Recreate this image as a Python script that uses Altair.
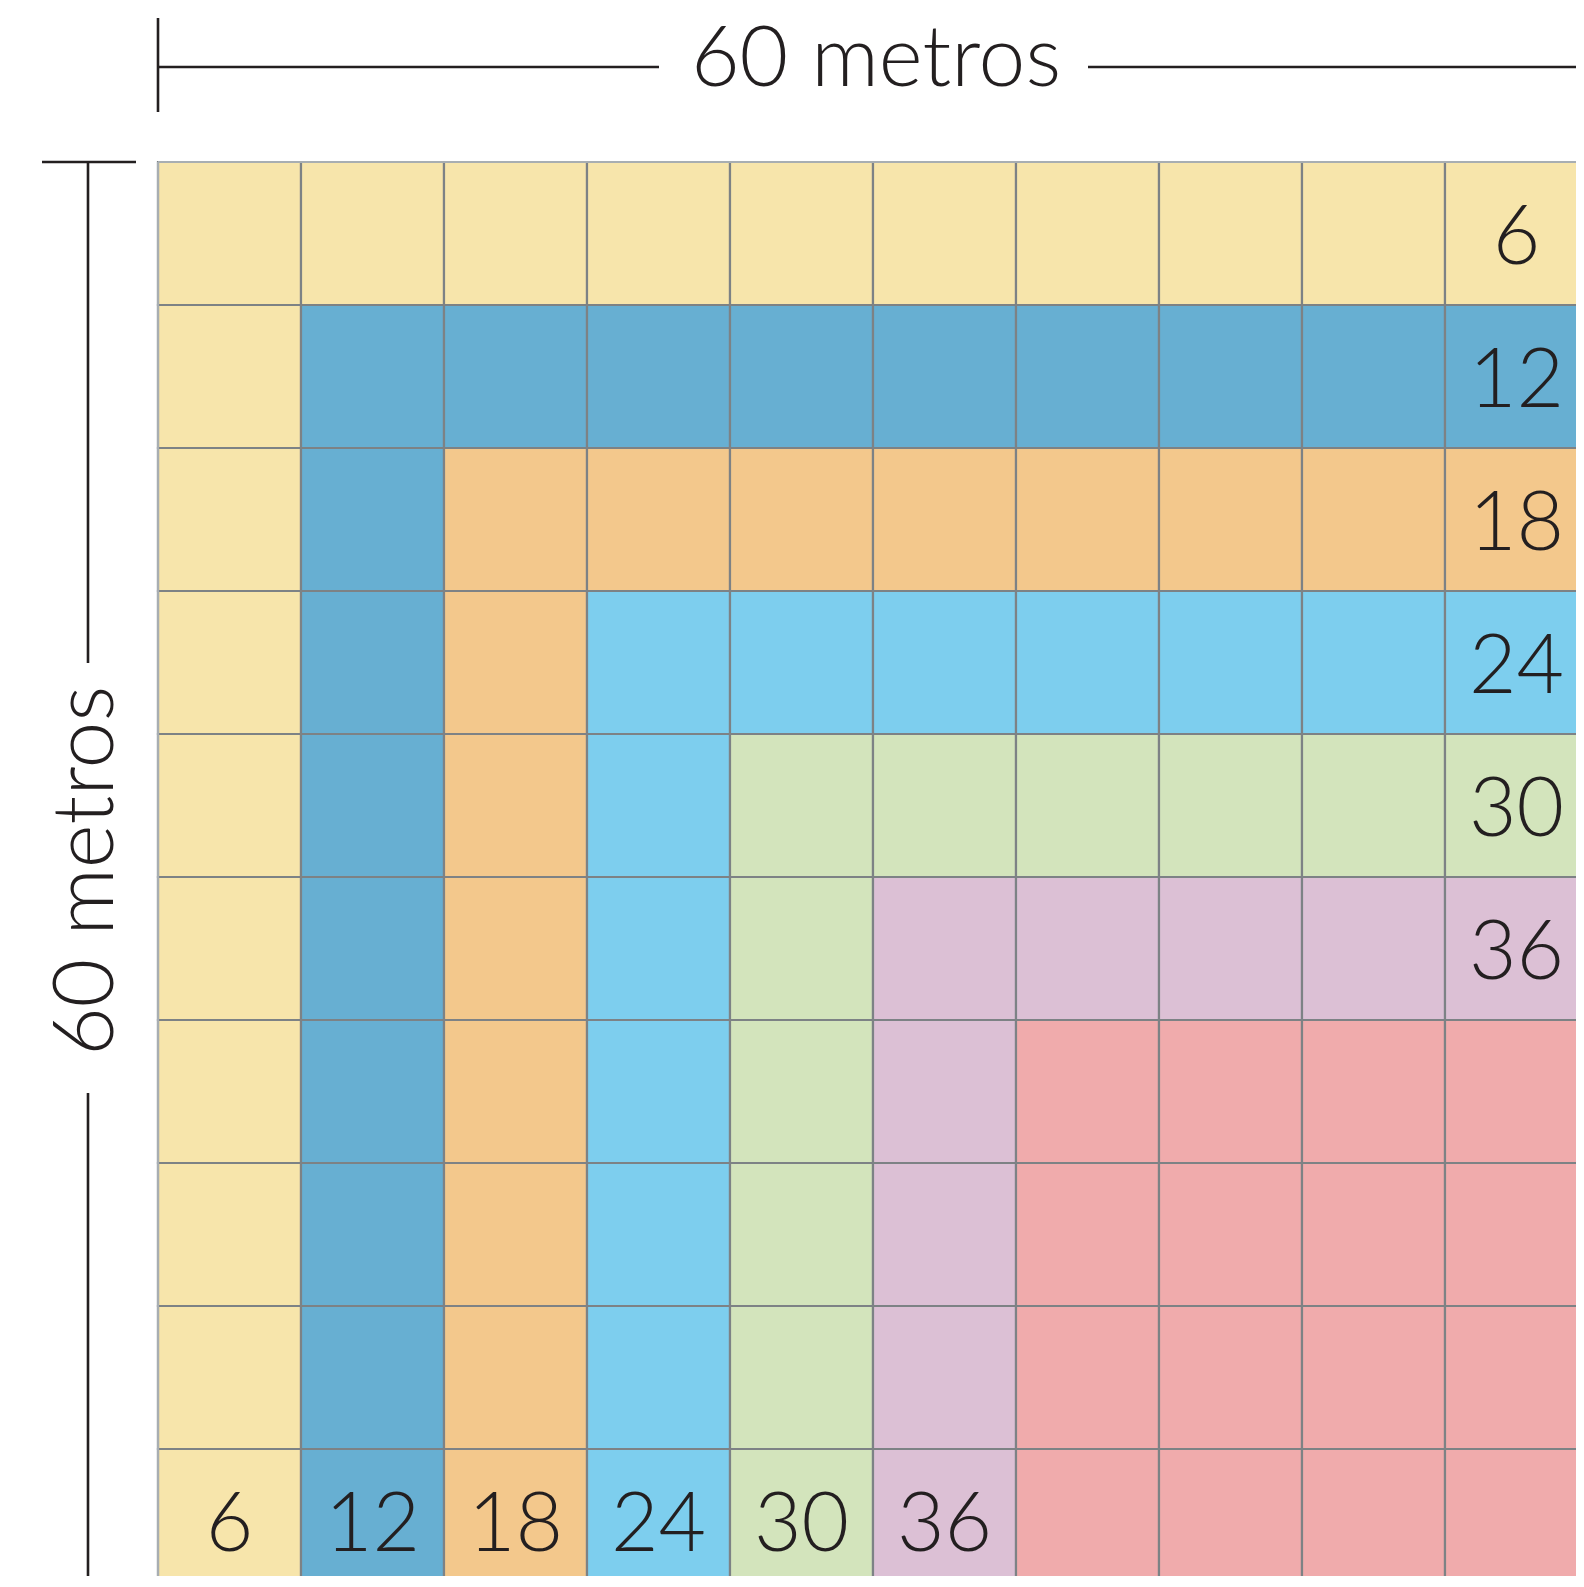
import altair as alt
import pandas as pd

# ---- data ----
band_rows = [
    "0000000000",
    "0111111111",
    "0122222222",
    "0123333333",
    "0123444444",
    "0123455555",
    "0123456666",
    "0123456666",
    "0123456666",
    "0123456666",
]
band_colors = ["#f7e5ab", "#67afd2", "#f3c88c", "#7dceee", "#d3e4bc", "#dcc0d5", "#f0abac"]
right_labels = [6, 12, 18, 24, 30, 36]      # last column, rows 1..6 from top
bottom_labels = [6, 12, 18, 24, 30, 36]     # bottom row, columns 1..6
side_title = "60 metros"

# ---- layout ----
W, H = 1568, 1568
CELL = 143.0
OX, OY = 150.0, 154.0   # grid origin inside the plot area
INK = "#231f20"
FONT = "Lato"

cells = []
for j, row in enumerate(band_rows):
    for i, ch in enumerate(row):
        cells.append({"i": i, "i2": i + 1, "j": j, "j2": j + 1, "band": int(ch)})
cells = pd.DataFrame(cells)

labels = []
for k, v in enumerate(right_labels):
    labels.append({"x": 9.5, "y": k + 0.5, "t": str(v)})
for k, v in enumerate(bottom_labels):
    labels.append({"x": k + 0.5, "y": 9.5, "t": str(v)})
labels = pd.DataFrame(labels)

xs = alt.Scale(domain=[-OX / CELL, (W - OX) / CELL], nice=False, zero=False)
ys = alt.Scale(domain=[-OY / CELL, (H - OY) / CELL], nice=False, zero=False, reverse=True)
noaxis = None

rects = alt.Chart(cells).mark_rect(stroke="#7d8285", strokeWidth=2.2).encode(
    x=alt.X("i:Q", scale=xs, axis=noaxis),
    x2="i2:Q",
    y=alt.Y("j:Q", scale=ys, axis=noaxis),
    y2="j2:Q",
    color=alt.Color("band:N", scale=alt.Scale(domain=list(range(7)), range=band_colors), legend=None),
)

edges = pd.DataFrame([
    {"x": 0, "x2": 10, "y": 0, "y2": 0},
    {"x": 0, "x2": 0, "y": 0, "y2": 10},
])
edge_rules = alt.Chart(edges).mark_rule(color="#a8aeb2", strokeWidth=2.2).encode(
    x=alt.X("x:Q", scale=xs, axis=noaxis), x2="x2:Q",
    y=alt.Y("y:Q", scale=ys, axis=noaxis), y2="y2:Q",
)

texts = alt.Chart(labels).mark_text(
    font=FONT, fontSize=82, fontWeight=300, color=INK, baseline="middle", align="center", dy=5
).encode(
    x=alt.X("x:Q", scale=xs, axis=noaxis),
    y=alt.Y("y:Q", scale=ys, axis=noaxis),
    text="t:N",
)

one = pd.DataFrame({"t": [side_title]})

# top dimension line
top_line1 = alt.Chart(one).mark_rule(color=INK, strokeWidth=2.6).encode(
    x=alt.value(150), x2=alt.value(651), y=alt.value(59))
top_line2 = alt.Chart(one).mark_rule(color=INK, strokeWidth=2.6).encode(
    x=alt.value(1080), x2=alt.value(W), y=alt.value(59))
top_tick = alt.Chart(one).mark_rule(color=INK, strokeWidth=2.6).encode(
    x=alt.value(150), y=alt.value(10), y2=alt.value(104))
top_text = alt.Chart(one).mark_text(
    font=FONT, fontSize=84, fontWeight=300, color=INK, align="center", baseline="middle"
).encode(x=alt.value(868), y=alt.value(53), text="t:N")

# left dimension line
left_line1 = alt.Chart(one).mark_rule(color=INK, strokeWidth=2.6).encode(
    x=alt.value(80), y=alt.value(154), y2=alt.value(655))
left_line2 = alt.Chart(one).mark_rule(color=INK, strokeWidth=2.6).encode(
    x=alt.value(80), y=alt.value(1085), y2=alt.value(H))
left_tick = alt.Chart(one).mark_rule(color=INK, strokeWidth=2.6).encode(
    x=alt.value(34), x2=alt.value(128), y=alt.value(154))
left_text = alt.Chart(one).mark_text(
    font=FONT, fontSize=84, fontWeight=300, color=INK, align="center", baseline="alphabetic", angle=270
).encode(x=alt.value(105), y=alt.value(863), text="t:N")

chart = alt.layer(
    rects, edge_rules, texts,
    top_line1, top_line2, top_tick, top_text,
    left_line1, left_line2, left_tick, left_text,
).properties(
    width=W, height=H, padding=0, autosize=alt.AutoSizeParams(type="none")
).configure_view(stroke=None)

chart.save("out.html", embed_options={"renderer": "svg", "actions": False})
